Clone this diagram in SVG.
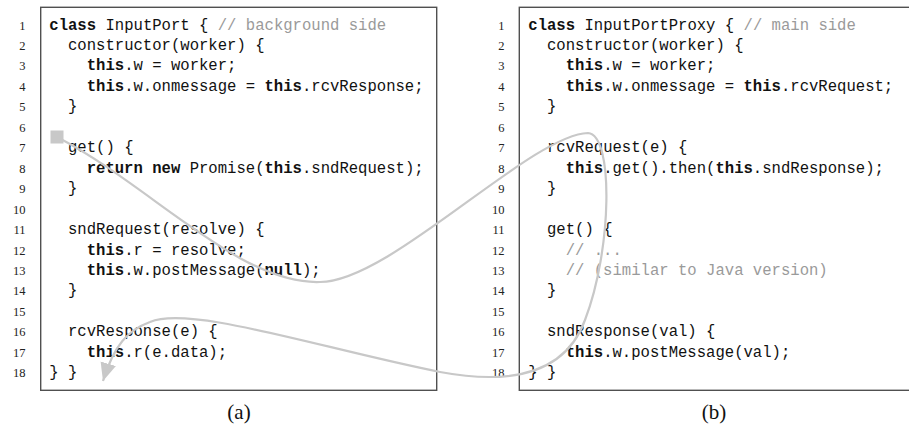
<svg xmlns="http://www.w3.org/2000/svg" width="909" height="429" viewBox="0 0 909 429">
<style>
.box{fill:#fff;stroke:#505050;stroke-width:1.4}
.code{font-family:"Liberation Mono","DejaVu Sans Mono",monospace;font-size:15.6px;fill:#111}
.k{font-weight:bold}
.c{fill:#9a9a9a}
.ln{font-family:"Liberation Serif","DejaVu Serif",serif;font-size:12.5px;fill:#222;text-anchor:end}
.cap{font-family:"Liberation Serif","DejaVu Serif",serif;font-size:21px;fill:#111;text-anchor:middle}
.conn{fill:none;stroke:#c8c8c8;stroke-width:2.2}
</style>
<defs>
<marker id="arrow" markerUnits="userSpaceOnUse" markerWidth="20" markerHeight="18" refX="18" refY="8" orient="auto">
<path d="M0,0 L18,8 L0,16 z" fill="#c8c8c8"/>
</marker>
<marker id="sq" markerUnits="userSpaceOnUse" markerWidth="14" markerHeight="14" refX="7" refY="7" orient="0">
<rect x="0.5" y="0.5" width="13" height="13" fill="#c8c8c8"/>
</marker>
</defs>

<g id="panel-a">
<rect class="box" x="40.7" y="7.3" width="396" height="383"/>
<g class="ln">
<text x="25.5" y="29.5">1</text>
<text x="25.5" y="49.9">2</text>
<text x="25.5" y="70.4">3</text>
<text x="25.5" y="90.9">4</text>
<text x="25.5" y="111.3">5</text>
<text x="25.5" y="131.8">6</text>
<text x="25.5" y="152.2">7</text>
<text x="25.5" y="172.7">8</text>
<text x="25.5" y="193.1">9</text>
<text x="25.5" y="213.6">10</text>
<text x="25.5" y="234">11</text>
<text x="25.5" y="254.5">12</text>
<text x="25.5" y="274.9">13</text>
<text x="25.5" y="295.4">14</text>
<text x="25.5" y="315.8">15</text>
<text x="25.5" y="336.3">16</text>
<text x="25.5" y="356.7">17</text>
<text x="25.5" y="377.2">18</text>
</g>
<g class="code">
<text x="49.3" y="29.5"><tspan class="k">class</tspan> InputPort { <tspan class="c">// background side</tspan></text>
<text x="68" y="49.9">constructor(worker) {</text>
<text x="86.7" y="70.4"><tspan class="k">this</tspan>.w = worker;</text>
<text x="86.7" y="90.9"><tspan class="k">this</tspan>.w.onmessage = <tspan class="k">this</tspan>.rcvResponse;</text>
<text x="68" y="111.3">}</text>
<text x="68" y="152.2">get() {</text>
<text x="86.7" y="172.7"><tspan class="k">return</tspan> <tspan class="k">new</tspan> Promise(<tspan class="k">this</tspan>.sndRequest);</text>
<text x="68" y="193.1">}</text>
<text x="68" y="234">sndRequest(resolve) {</text>
<text x="86.7" y="254.5"><tspan class="k">this</tspan>.r = resolve;</text>
<text x="86.7" y="274.9"><tspan class="k">this</tspan>.w.postMessage(<tspan class="k">null</tspan>);</text>
<text x="68" y="295.4">}</text>
<text x="68" y="336.3">rcvResponse(e) {</text>
<text x="86.7" y="356.7"><tspan class="k">this</tspan>.r(e.data);</text>
<text x="49.3" y="377.2">} }</text>
</g>
</g>

<g id="panel-b">
<rect class="box" x="519.3" y="7.3" width="400" height="383"/>
<g class="ln">
<text x="504.5" y="29.5">1</text>
<text x="504.5" y="49.9">2</text>
<text x="504.5" y="70.4">3</text>
<text x="504.5" y="90.9">4</text>
<text x="504.5" y="111.3">5</text>
<text x="504.5" y="131.8">6</text>
<text x="504.5" y="152.2">7</text>
<text x="504.5" y="172.7">8</text>
<text x="504.5" y="193.1">9</text>
<text x="504.5" y="213.6">10</text>
<text x="504.5" y="234">11</text>
<text x="504.5" y="254.5">12</text>
<text x="504.5" y="274.9">13</text>
<text x="504.5" y="295.4">14</text>
<text x="504.5" y="315.8">15</text>
<text x="504.5" y="336.3">16</text>
<text x="504.5" y="356.7">17</text>
<text x="504.5" y="377.2">18</text>
</g>
<g class="code">
<text x="528.3" y="29.5"><tspan class="k">class</tspan> InputPortProxy { <tspan class="c">// main side</tspan></text>
<text x="547" y="49.9">constructor(worker) {</text>
<text x="565.7" y="70.4"><tspan class="k">this</tspan>.w = worker;</text>
<text x="565.7" y="90.9"><tspan class="k">this</tspan>.w.onmessage = <tspan class="k">this</tspan>.rcvRequest;</text>
<text x="547" y="111.3">}</text>
<text x="547" y="152.2">rcvRequest(e) {</text>
<text x="565.7" y="172.7"><tspan class="k">this</tspan>.get().then(<tspan class="k">this</tspan>.sndResponse);</text>
<text x="547" y="193.1">}</text>
<text x="547" y="234">get() {</text>
<text x="565.7" y="254.5" class="c">// ...</text>
<text x="565.7" y="274.9" class="c">// (similar to Java version)</text>
<text x="547" y="295.4">}</text>
<text x="547" y="336.3">sndResponse(val) {</text>
<text x="565.7" y="356.7"><tspan class="k">this</tspan>.w.postMessage(val);</text>
<text x="528.3" y="377.2">} }</text>
</g>
</g>

<g id="connectors">
<path class="conn" marker-start="url(#sq)" marker-end="url(#arrow)" d="M57,137 C150,185 240,285 320,282 C390,282 530,135 588,133 C614,135 612,250 585,320 C565,375 510,385 440,372 C320,348 190,305 150,322 C128,330 114,345 103,381"/>
</g>

<g id="captions">
<text class="cap" x="239" y="419">(a)</text>
<text class="cap" x="714" y="419">(b)</text>
</g>
</svg>
